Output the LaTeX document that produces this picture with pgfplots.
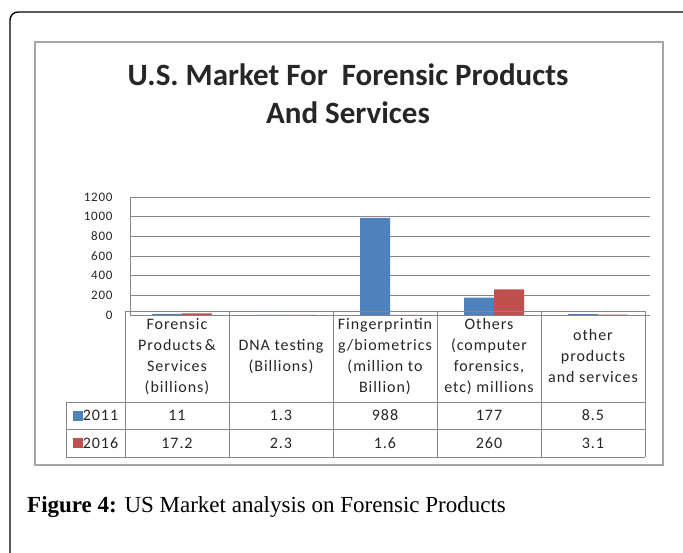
\documentclass[border=0pt]{standalone}
\usepackage{fontspec}
\setmainfont{Carlito}
\newfontfamily\tabfont[LetterSpace=6]{Carlito}
\newfontfamily\capfont{Liberation Serif}
\usepackage{pgfplots}
\pgfplotsset{compat=1.18}
\definecolor{cblue}{HTML}{4F81BD}
\definecolor{cred}{HTML}{C0504D}
\definecolor{gridgray}{HTML}{868686}
\definecolor{framegray}{HTML}{A6A6A6}
\begin{document}
\begin{tikzpicture}[x=1pt,y=1pt]
\useasboundingbox (0,0) rectangle (683,553);
\fill[white] (0,0) rectangle (683,553);
% outer border
\draw[line width=1.4pt] (10,0) -- (10,533) arc[start angle=180,end angle=90,radius=8] -- (690,541);
% inner chart frame
\draw[framegray, line width=1.2pt] (35,88) rectangle (663,511);
% title
\node[font=\bfseries\fontsize{31}{38}\selectfont, align=center, text=black!85] at (348,459) {U.S. Market For\ \ Forensic Products\\And Services};
\begin{axis}[
  at={(125,242)}, anchor=south west, scale only axis,
  width=520pt, height=118pt,
  xmin=-0.5, xmax=4.5, ymin=0, ymax=1200,
  ytick={0,200,...,1200}, xtick=\empty,
  axis y line*=left, axis x line=none,
  y axis line style={gridgray, line width=0.8pt, -},
  ymajorgrids, grid style={gridgray, line width=0.8pt},
  major tick length=0pt,
  yticklabel style={font=\tabfont\fontsize{13}{15}\selectfont, text=black!85, xshift=-14pt},
  /pgf/number format/assume math mode=true,
  /pgf/number format/1000 sep={},
  clip=false,
]
\addplot[ybar, bar width=30pt, bar shift=-15pt, fill=cblue, draw=none]
  coordinates {(0,11) (1,1.3) (2,988) (3,177) (4,8.5)};
\addplot[ybar, bar width=30pt, bar shift=15pt, fill=cred, draw=none]
  coordinates {(0,17.2) (1,2.3) (2,1.6) (3,260) (4,3.1)};
\end{axis}
% data table lines
\begin{scope}[gridgray, line width=0.8pt]
\foreach \x in {125,229,333,437,541,645} \draw (\x,242) -- (\x,96);
\draw (66,151) -- (66,96);
\draw (125,242) -- (645,242);
\draw (66,151) -- (645,151);
\draw (66,124) -- (645,124);
\draw (66,96) -- (645,96);
\end{scope}
\begin{scope}[every node/.style={font=\tabfont\fontsize{16}{21}\selectfont, align=center, text=black!85}]
\node at (177,196.5) {Forensic\\Products\,\&\\Services\\(billions)};
\node at (281,196.5) {DNA testing\\(Billions)};
\node at (385,196.5) {Fingerprintin\\g/biometrics\\(million to\\Billion)};
\node at (489,196.5) {Others\\(computer\\forensics,\\etc) millions};
\node at (593,196.5) {other\\products\\and services};
\node at (95.5,137.5) {\textcolor{cblue}{\rule{10pt}{10pt}}2011};
\node at (95.5,110) {\textcolor{cred}{\rule{10pt}{10pt}}2016};
\node at (177,137.5) {11};
\node at (281,137.5) {1.3};
\node at (385,137.5) {988};
\node at (489,137.5) {177};
\node at (593,137.5) {8.5};
\node at (177,110) {17.2};
\node at (281,110) {2.3};
\node at (385,110) {1.6};
\node at (489,110) {260};
\node at (593,110) {3.1};
\end{scope}
% caption
\node[anchor=base west, font=\capfont\fontsize{23}{26}\selectfont, inner sep=0pt] at (27,40) {\textbf{Figure 4:} US Market analysis on Forensic Products};
\end{tikzpicture}
\end{document}
